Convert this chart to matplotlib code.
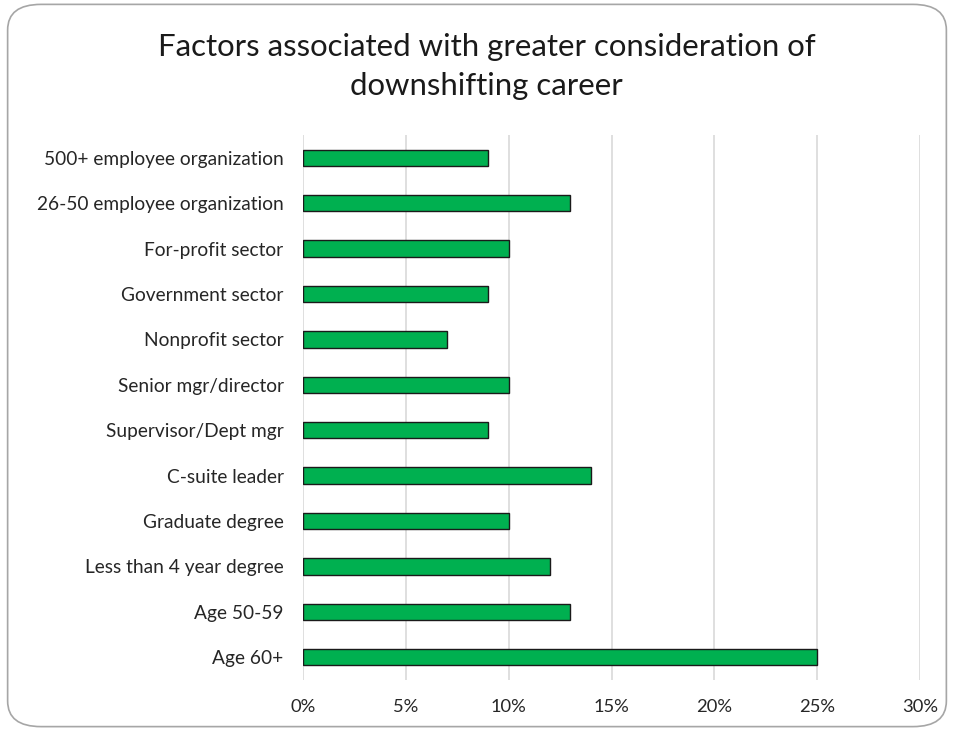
import numpy as np
import matplotlib.pyplot as plt
from matplotlib.patches import FancyBboxPatch
from matplotlib.ticker import PercentFormatter

# categories from top to bottom
factors = [
    "500+ employee organization",
    "26-50 employee organization",
    "For-profit sector",
    "Government sector",
    "Nonprofit sector",
    "Senior mgr/director",
    "Supervisor/Dept mgr",
    "C-suite leader",
    "Graduate degree",
    "Less than 4 year degree",
    "Age 50-59",
    "Age 60+",
]
share = [9, 13, 10, 9, 7, 10, 9, 14, 10, 12, 13, 25]  # percent
x_ticks = [0, 5, 10, 15, 20, 25, 30]

plt.rcParams['font.family'] = ['Lato', 'DejaVu Sans']

fig = plt.figure(figsize=(9.54, 7.31), dpi=100)

# rounded frame around the chart
frame = FancyBboxPatch((0.008, 0.006), 0.984, 0.988,
                       boxstyle="round,pad=0,rounding_size=0.035",
                       transform=fig.transFigure, facecolor="white",
                       edgecolor="#A6A6A6", linewidth=1.2, zorder=-5)
fig.patches.append(frame)

ax = fig.add_axes([0.3176, 0.0698, 0.6468, 0.7455])
ax.set_zorder(2)
ax.set_facecolor("none")

y = np.arange(len(factors))
ax.barh(y, share, height=0.36, color="#00B050", edgecolor="#1a1a1a",
        linewidth=1.0, zorder=3)

ax.set_ylim(len(factors) - 0.5, -0.5)
ax.set_xlim(0, 30)
ax.set_xticks(x_ticks)
ax.xaxis.set_major_formatter(PercentFormatter(decimals=0))
ax.set_yticks(y)
ax.set_yticklabels(factors)
ax.tick_params(axis="both", length=0, colors="#262626")
ax.tick_params(axis="y", pad=14, labelsize=13.8)
ax.tick_params(axis="x", pad=14, labelsize=13.2)

ax.grid(axis="x", color="#D9D9D9", linewidth=1.2, zorder=0)
for s in ax.spines.values():
    s.set_visible(False)

fig.text(0.51, 0.909, "Factors associated with greater consideration of\ndownshifting career",
         ha="center", va="center", fontsize=22.4, color="#1a1a1a", linespacing=1.45,
         zorder=3)

fig.savefig("out.png", dpi=100)
